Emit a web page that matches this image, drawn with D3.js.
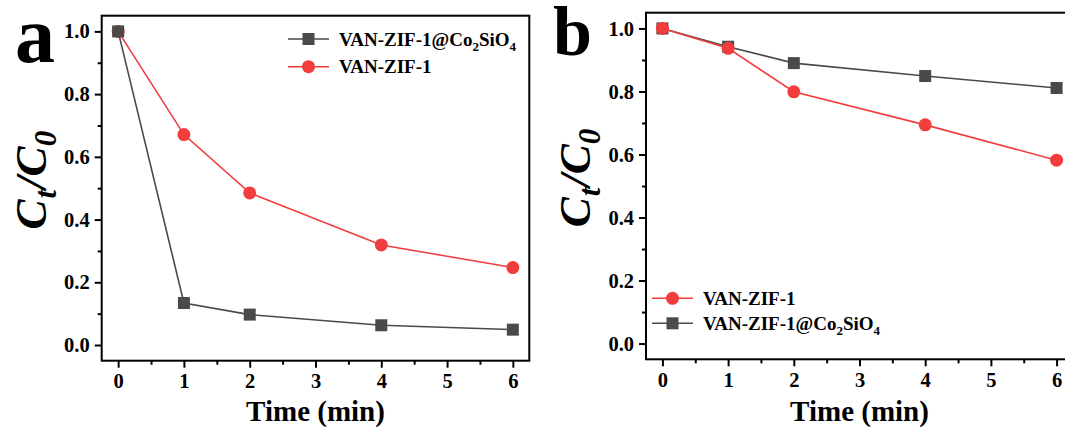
<!DOCTYPE html>
<html>
<head>
<meta charset="utf-8">
<script src="https://cdn.jsdelivr.net/npm/d3@7"></script>
<style>
  html, body { margin: 0; padding: 0; background: #fff; }
  svg { display: block; }
</style>
</head>
<body>
<svg id="chart" width="1065" height="432"></svg>
<script>
// Sampling times (min) and normalised concentration Ct/C0
const timeTicks = [0, 1, 2, 3, 4, 5, 6];
const ratioTicks = [0, 0.2, 0.4, 0.6, 0.8, 1.0];
const times = [0, 1, 2, 4, 6];

// Panel a
const compositeA = [1.0, 0.134, 0.097, 0.063, 0.049];
const zifA = [1.0, 0.671, 0.485, 0.319, 0.247];

// Panel b
const zifB = [1.0, 0.937, 0.799, 0.694, 0.582];
const compositeB = [1.0, 0.942, 0.890, 0.849, 0.811];

const GRAY = "#4a4a4a";
const RED = "#f23d3d";
const SERIF = "'Liberation Serif', 'Times New Roman', serif";

const svg = d3.select("#chart");

function serifText(sel, size) {
  return sel.style("font-family", SERIF).style("font-weight", "bold")
    .style("font-size", size + "px").attr("fill", "#000");
}

function drawPanel(cfg) {
  const x = d3.scaleLinear().domain([-0.25, 6.25]).range([cfg.left, cfg.right]);
  const y = d3.scaleLinear().domain([-0.05, 1.05]).range([cfg.bottom, cfg.top]);
  const g = svg.append("g");

  // minor ticks
  const minorX = d3.range(0.5, 6, 1);
  const minorY = d3.range(0.1, 1.0, 0.2);
  g.append("g").attr("transform", `translate(0,${cfg.bottom})`)
    .call(d3.axisBottom(x).tickValues(minorX).tickSize(4).tickFormat(""))
    .call(a => a.select(".domain").remove())
    .call(a => a.selectAll("line").attr("stroke", "#000").attr("stroke-width", 2));
  g.append("g").attr("transform", `translate(${cfg.left},0)`)
    .call(d3.axisLeft(y).tickValues(minorY).tickSize(4).tickFormat(""))
    .call(a => a.select(".domain").remove())
    .call(a => a.selectAll("line").attr("stroke", "#000").attr("stroke-width", 2));

  // major ticks with labels
  g.append("g").attr("transform", `translate(0,${cfg.bottom})`)
    .call(d3.axisBottom(x).tickValues(timeTicks).tickSize(7).tickPadding(6).tickFormat(d3.format("d")))
    .call(a => a.select(".domain").remove())
    .call(a => a.selectAll("line").attr("stroke", "#000").attr("stroke-width", 2))
    .call(a => serifText(a.selectAll("text"), 20.5));
  g.append("g").attr("transform", `translate(${cfg.left},0)`)
    .call(d3.axisLeft(y).tickValues(ratioTicks).tickSize(7).tickPadding(5).tickFormat(d3.format(".1f")))
    .call(a => a.select(".domain").remove())
    .call(a => a.selectAll("line").attr("stroke", "#000").attr("stroke-width", 2))
    .call(a => serifText(a.selectAll("text"), 20.5));

  // frame
  g.append("rect")
    .attr("x", cfg.left).attr("y", cfg.top)
    .attr("width", cfg.right - cfg.left).attr("height", cfg.bottom - cfg.top)
    .attr("fill", "none").attr("stroke", "#000").attr("stroke-width", 2);

  // series
  const line = d3.line().x((d, i) => x(times[i])).y(d => y(d));
  cfg.series.forEach(s => {
    g.append("path").datum(s.values)
      .attr("d", line).attr("fill", "none")
      .attr("stroke", s.color).attr("stroke-width", 1.6);
    if (s.shape === "square") {
      g.selectAll(null).data(s.values).join("rect")
        .attr("x", (d, i) => x(times[i]) - 6).attr("y", d => y(d) - 6)
        .attr("width", 12).attr("height", 12)
        .attr("fill", s.color);
    } else {
      g.selectAll(null).data(s.values).join("circle")
        .attr("cx", (d, i) => x(times[i])).attr("cy", d => y(d))
        .attr("r", 6.5).attr("fill", s.color);
    }
  });

  // legend
  cfg.legend.forEach((s, i) => {
    const cy = cfg.legendY + i * cfg.legendGap;
    const lx = cfg.legendX;
    const lg = g.append("g");
    lg.append("line").attr("x1", lx).attr("x2", lx + 41).attr("y1", cy).attr("y2", cy)
      .attr("stroke", s.color).attr("stroke-width", 1.6);
    if (s.shape === "square") {
      lg.append("rect").attr("x", lx + 20.5 - 6).attr("y", cy - 6)
        .attr("width", 12).attr("height", 12).attr("fill", s.color);
    } else {
      lg.append("circle").attr("cx", lx + 20.5).attr("cy", cy).attr("r", 6.5).attr("fill", s.color);
    }
    const t = serifText(lg.append("text").attr("x", lx + 51).attr("y", cy + 6.5), 19);
    s.label.forEach(part => {
      const ts = t.append("tspan").text(part.t);
      if (part.sub) ts.style("font-size", "13px").attr("dy", 5);
      else if (part.back) ts.attr("dy", -5);
    });
  });

  // axis titles
  serifText(g.append("text"), 29)
    .attr("x", (cfg.left + cfg.right) / 2).attr("y", 421)
    .attr("text-anchor", "middle")
    .text("Time (min)");

  const yl = serifText(g.append("text"), 45)
    .attr("transform", `translate(${cfg.left - 56},${(cfg.top + cfg.bottom) / 2 - 8}) rotate(-90)`)
    .attr("text-anchor", "middle").style("font-style", "italic");
  yl.append("tspan").text("C");
  yl.append("tspan").text("t").style("font-size", "31px").attr("dy", 10).attr("dx", 1);
  yl.append("tspan").text("/").attr("dy", -10).attr("dx", 1);
  yl.append("tspan").text("C");
  yl.append("tspan").text("0").style("font-size", "31px").attr("dy", 10);

  // panel letter
  serifText(g.append("text"), cfg.letterSize)
    .attr("x", cfg.letterX).attr("y", cfg.letterY).text(cfg.letter);
}

const compositeLabel = [
  { t: "VAN-ZIF-1@Co" }, { t: "2", sub: true }, { t: "SiO", back: true }, { t: "4", sub: true }
];
const zifLabel = [{ t: "VAN-ZIF-1" }];

drawPanel({
  left: 101.7, right: 529.3, top: 15.7, bottom: 360.7,
  series: [
    { values: zifA, color: RED, shape: "circle" },
    { values: compositeA, color: GRAY, shape: "square" }
  ],
  legend: [
    { color: GRAY, shape: "square", label: compositeLabel },
    { color: RED, shape: "circle", label: zifLabel }
  ],
  legendX: 288, legendY: 39, legendGap: 27.7,
  letter: "a", letterX: 15, letterY: 62, letterSize: 80
});

drawPanel({
  left: 646, right: 1073, top: 12.7, bottom: 359.3,
  series: [
    { values: compositeB, color: GRAY, shape: "square" },
    { values: zifB, color: RED, shape: "circle" }
  ],
  legend: [
    { color: RED, shape: "circle", label: zifLabel },
    { color: GRAY, shape: "square", label: compositeLabel }
  ],
  legendX: 652, legendY: 298.3, legendGap: 25,
  letter: "b", letterX: 553, letterY: 55, letterSize: 70
});
</script>
</body>
</html>
